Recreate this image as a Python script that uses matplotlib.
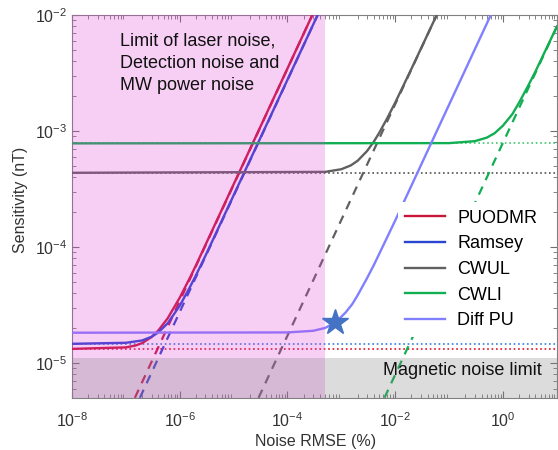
import numpy as np
import matplotlib.pyplot as plt
from matplotlib.ticker import LogLocator, NullFormatter

plt.rcParams['font.family'] = ['Liberation Sans', 'DejaVu Sans']
plt.rcParams['mathtext.fontset'] = 'custom'
plt.rcParams['mathtext.rm'] = 'Liberation Sans'
plt.rcParams['mathtext.it'] = 'Liberation Sans:italic'

# values (noise RMSE in %, sensitivity in nT)
methods = ['PUODMR', 'Ramsey', 'CWUL', 'CWLI', 'Diff PU']
colors = ['#C8153A', '#2A45D0', '#606060', '#12AE52', '#8080FF']
dot_colors = ['#E0102A', '#2F7FE0', '#505050', '#40C870', None]

# solid curves (total sensitivity)
puodmr_x = [1e-8, 1e-7, 1.5e-7, 2e-7, 3e-7, 4e-7, 6e-7, 1e-6, 1.5e-6, 2e-6, 2.9e-4]
puodmr_y = [1.32e-5, 1.36e-5, 1.41e-5, 1.48e-5, 1.67e-5, 1.9e-5, 2.43e-5, 3.65e-5, 5.27e-5, 6.93e-5, 1e-2]
ramsey_x = [1e-8, 1e-7, 2e-7, 3e-7, 4e-7, 6e-7, 1e-6, 1.5e-6, 2e-6, 3e-6, 3.64e-4]
ramsey_y = [1.46e-5, 1.49e-5, 1.56e-5, 1.68e-5, 1.83e-5, 2.2e-5, 3.11e-5, 4.38e-5, 5.69e-5, 8.38e-5, 1e-2]
cwul_x = [1e-8, 5e-4, 1e-3, 1.5e-3, 2e-3, 3e-3, 4e-3, 5e-3, 7e-3, 1e-2, 2e-2, 5.9e-2]
cwul_y = [4.35e-4, 4.43e-4, 4.67e-4, 5.04e-4, 5.52e-4, 6.7e-4, 8.07e-4, 9.55e-4, 1.27e-3, 1.755e-3, 3.43e-3, 1e-2]
cwli_x = [1e-8, 0.1, 0.3, 0.5, 0.7, 1.0, 1.5, 2.0, 3.0, 4.0, 10.0]
cwli_y = [7.8e-4, 7.84e-4, 8.15e-4, 8.74e-4, 9.55e-4, 1.11e-3, 1.4e-3, 1.76e-3, 2.5e-3, 3.25e-3, 7.94e-3]
diffpu_x = [1e-8, 1e-4, 3e-4, 5e-4, 8e-4, 1.2e-3, 1.6e-3, 2e-3, 3e-3, 4e-3, 1e-2, 0.595]
diffpu_y = [1.82e-5, 1.83e-5, 1.89e-5, 2.0e-5, 2.26e-5, 2.72e-5, 3.22e-5, 3.82e-5, 5.38e-5, 6.96e-5, 1.69e-4, 1e-2]

# dashed lines (noise contribution only)
dash_x = [[1.47e-7, 2.9e-4], [1.82e-7, 3.64e-4], [2.9e-5, 5.9e-2], [6.3e-3, 10.0]]
dash_y = [[5e-6, 1e-2], [5e-6, 1e-2], [5e-6, 1e-2], [5e-6, 7.9e-3]]

# dotted floors (noise-free sensitivity)
floors = [1.32e-5, 1.46e-5, 4.35e-4, 7.8e-4]

star_x = [7.6e-4]
star_y = [2.25e-5]

laser_limit = 5e-4
magnetic_limit = 1.11e-5

x_ticks = [1e-8, 1e-6, 1e-4, 1e-2, 1e0]
x_ticklabels = ['$10^{-8}$', '$10^{-6}$', '$10^{-4}$', '$10^{-2}$', '$10^{0}$']
y_ticks = [1e-5, 1e-4, 1e-3, 1e-2]
y_ticklabels = ['$10^{-5}$', '$10^{-4}$', '$10^{-3}$', '$10^{-2}$']

fig = plt.figure(figsize=(5.58, 4.5), dpi=100)
ax = fig.add_axes([0.129, 0.116, 0.869, 0.851])
ax.set_xscale('log')
ax.set_yscale('log')
xmin, xmax = 1e-8, 1e1
ymin, ymax = 5e-6, 1e-2

for i in range(4):
    ax.plot([xmin, xmax], [floors[i], floors[i]], ':', color=dot_colors[i], lw=1.2, zorder=2)
    ax.plot(dash_x[i], dash_y[i], '--', color=colors[i], lw=1.6, dashes=(4, 3.2), zorder=2)

curves = [(puodmr_x, puodmr_y), (ramsey_x, ramsey_y), (cwul_x, cwul_y),
          (cwli_x, cwli_y), (diffpu_x, diffpu_y)]
handles = []
for (cx, cy), name, c in zip(curves, methods, colors):
    h, = ax.plot(cx, cy, '-', color=c, lw=1.7, label=name, zorder=3)
    handles.append(h)

ax.plot(star_x, star_y, marker='*', color='#4472C4', ms=19, ls='none', zorder=5)

# shaded regions
ax.axvspan(xmin, laser_limit, color='#E040D8', alpha=0.25, lw=0, zorder=4)
ax.axhspan(ymin, magnetic_limit, color='#808080', alpha=0.27, lw=0, zorder=4)

ax.text(0.099, 0.953, 'Limit of laser noise,\nDetection noise and\nMW power noise',
        transform=ax.transAxes, ha='left', va='top', fontsize=13, linespacing=1.4,
        color='#111111', zorder=6)
ax.text(0.641, 0.071, 'Magnetic noise limit', transform=ax.transAxes, ha='left',
        va='center', fontsize=13, color='#111111', zorder=6)

ax.set_xlim(xmin, xmax)
ax.set_ylim(ymin, ymax)

ax.set_xticks(x_ticks)
ax.set_xticklabels(x_ticklabels)
ax.xaxis.set_minor_locator(LogLocator(base=10, subs=np.arange(2, 10), numticks=20))
ax.xaxis.set_minor_formatter(NullFormatter())
ax.set_yticks(y_ticks)
ax.set_yticklabels(y_ticklabels)
ax.yaxis.set_minor_locator(LogLocator(base=10, subs=np.arange(2, 10), numticks=20))
ax.yaxis.set_minor_formatter(NullFormatter())

ax.tick_params(which='both', direction='in', top=True, right=True, colors='#707070',
               labelcolor='#333333', labelsize=11.5)
ax.tick_params(which='major', length=5)
ax.tick_params(which='minor', length=3)
ax.tick_params(axis='x', pad=10)
for s in ax.spines.values():
    s.set_color('#808080')

ax.set_xlabel('Noise RMSE (%)', fontsize=11.5, color='#333333')
ax.set_ylabel('Sensitivity (nT)', fontsize=11.5, color='#333333')
ax.xaxis.set_label_coords(0.503, -0.095)
ax.yaxis.set_label_coords(-0.091, 0.517)

leg = ax.legend(handles=handles, loc='upper left', bbox_to_anchor=(0.672, 0.51),
                borderaxespad=0, frameon=True, fontsize=13, handlelength=2.2,
                handletextpad=0.7, labelspacing=0.48, borderpad=0.4)
leg.get_frame().set_facecolor('white')
leg.get_frame().set_edgecolor('none')
leg.get_frame().set_alpha(1)
leg.set_zorder(7)

fig.savefig('out.png', dpi=100)
